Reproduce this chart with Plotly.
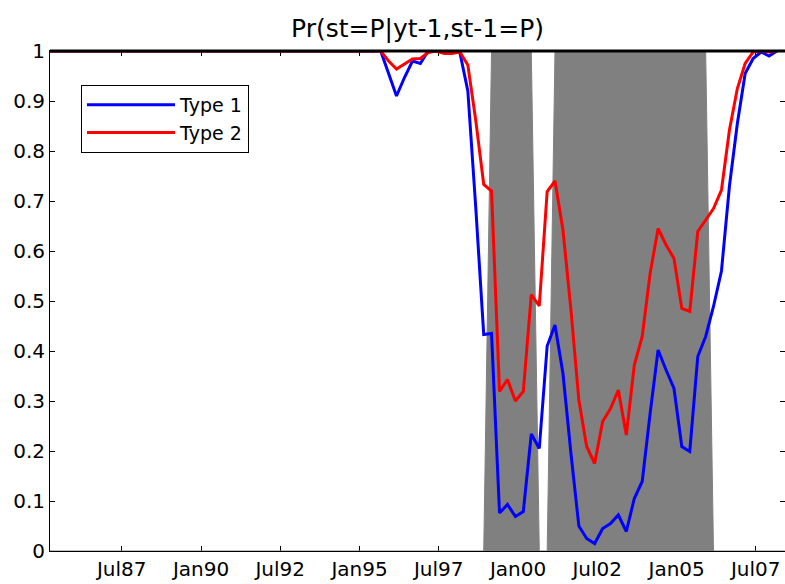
import pandas as pd
import plotly.graph_objects as go

# Quarterly observations (first day of the last month of each quarter)
dates_lines = pd.date_range("1985-03-01", "2008-03-01", freq="3MS")
dates_shade = pd.date_range("1985-03-01", "2008-06-01", freq="3MS")

# Pr(s_t = P | y_t-1, s_t-1 = P), Type 1 (blue)
type1 = [
    1, 1, 1, 1,            # 1985
    1, 1, 1, 1,            # 1986
    1, 1, 1, 1,            # 1987
    1, 1, 1, 1,            # 1988
    1, 1, 1, 1,            # 1989
    1, 1, 1, 1,            # 1990
    1, 1, 1, 1,            # 1991
    1, 1, 1, 1,            # 1992
    1, 1, 1, 1,            # 1993
    1, 1, 1, 1,            # 1994
    1, 1, 1, 0.955,        # 1995
    0.91, 0.947, 0.98, 0.975,     # 1996
    1.0, 1.0, 1.0, 1.0,           # 1997
    0.997, 0.92, 0.685, 0.433,    # 1998
    0.435, 0.076, 0.093, 0.069,   # 1999
    0.079, 0.234, 0.205, 0.41,    # 2000
    0.452, 0.355, 0.195, 0.05,    # 2001
    0.025, 0.015, 0.045, 0.055,   # 2002
    0.072, 0.039, 0.105, 0.139,   # 2003
    0.275, 0.402, 0.362, 0.325,   # 2004
    0.209, 0.199, 0.389, 0.429,   # 2005
    0.489, 0.56, 0.73, 0.855,     # 2006
    0.955, 0.985, 0.998, 0.99,    # 2007
    1.0,                          # 2008
]

# Type 2 (red)
type2 = [
    1, 1, 1, 1,            # 1985
    1, 1, 1, 1,            # 1986
    1, 1, 1, 1,            # 1987
    1, 1, 1, 1,            # 1988
    1, 1, 1, 1,            # 1989
    1, 1, 1, 1,            # 1990
    1, 1, 1, 1,            # 1991
    1, 1, 1, 1,            # 1992
    1, 1, 1, 1,            # 1993
    1, 1, 1, 1,            # 1994
    1, 1, 1, 0.98,         # 1995
    0.964, 0.974, 0.984, 0.985,   # 1996
    0.997, 1.0, 0.995, 0.995,     # 1997
    0.998, 0.972, 0.86, 0.733,    # 1998
    0.72, 0.319, 0.343, 0.30,     # 1999
    0.319, 0.513, 0.49, 0.719,    # 2000
    0.74, 0.642, 0.482, 0.302,    # 2001
    0.209, 0.175, 0.259, 0.285,   # 2002
    0.322, 0.232, 0.372, 0.429,   # 2003
    0.555, 0.645, 0.612, 0.585,   # 2004
    0.485, 0.479, 0.639, 0.662,   # 2005
    0.685, 0.722, 0.842, 0.925,   # 2006
    0.975, 0.998, 1.0, 0.998,     # 2007
    1.0,                          # 2008
]

# Shaded periods (1 = shaded)
shade = [
    0, 0, 0, 0,  # 1985
    0, 0, 0, 0,  # 1986
    0, 0, 0, 0,  # 1987
    0, 0, 0, 0,  # 1988
    0, 0, 0, 0,  # 1989
    0, 0, 0, 0,  # 1990
    0, 0, 0, 0,  # 1991
    0, 0, 0, 0,  # 1992
    0, 0, 0, 0,  # 1993
    0, 0, 0, 0,  # 1994
    0, 0, 0, 0,  # 1995
    0, 0, 0, 0,  # 1996
    0, 0, 0, 0,  # 1997
    0, 0, 0, 0,  # 1998
    1, 1, 1, 1,  # 1999
    1, 1, 0, 0,  # 2000
    1, 1, 1, 1,  # 2001
    1, 1, 1, 1,  # 2002
    1, 1, 1, 1,  # 2003
    1, 1, 1, 1,  # 2004
    1, 1, 1, 1,  # 2005
    0, 0, 0, 0,  # 2006
    0, 0, 0, 0,  # 2007
    0, 0,        # 2008
]

x_tick_vals = ["1987-07-01", "1990-01-01", "1992-07-01", "1995-01-01", "1997-07-01",
               "2000-01-01", "2002-07-01", "2005-01-01", "2007-07-01"]
x_tick_text = ["Jul87", "Jan90", "Jul92", "Jan95", "Jul97", "Jan00", "Jul02", "Jan05", "Jul07"]
y_tick_vals = [0, 0.1, 0.2, 0.3, 0.4, 0.5, 0.6, 0.7, 0.8, 0.9, 1]
y_tick_text = ["0", "0.1", "0.2", "0.3", "0.4", "0.5", "0.6", "0.7", "0.8", "0.9", "1"]

FONT = "DejaVu Sans"

fig = go.Figure()
fig.add_trace(go.Scatter(
    x=dates_shade, y=shade, mode="lines", fill="tozeroy",
    fillcolor="#808080", line=dict(color="#808080", width=1),
    showlegend=False, hoverinfo="skip",
))
fig.add_trace(go.Scatter(
    x=dates_lines, y=type1, mode="lines", name="Type 1",
    line=dict(color="#0000FF", width=3),
))
fig.add_trace(go.Scatter(
    x=dates_lines, y=type2, mode="lines", name="Type 2",
    line=dict(color="#FF0000", width=3),
))

fig.update_layout(
    width=785, height=584,
    margin=dict(l=50, r=0, t=51, b=33),
    paper_bgcolor="white", plot_bgcolor="white",
    font=dict(family=FONT, size=20, color="black"),
    title=dict(text="Pr(st=P|yt-1,st-1=P)", x=0.5, xref="paper", xanchor="center",
               y=1 - 28 / 584, yref="container", yanchor="middle",
               font=dict(family=FONT, size=25, color="black")),
    legend=dict(x=31 / 735, y=(551 - 85) / 500, xanchor="left", yanchor="top",
                bgcolor="white", bordercolor="black", borderwidth=1,
                itemwidth=88,
                font=dict(family=FONT, size=19, color="black")),
    showlegend=True,
)
fig.update_xaxes(
    type="date", range=["1985-03-27", "2008-06-02"],
    tickvals=x_tick_vals, ticktext=x_tick_text,
    ticks="inside", ticklen=5, tickwidth=1, tickcolor="black",
    showline=True, linecolor="black", linewidth=1, mirror="ticks",
    showgrid=False, zeroline=False, layer="below traces",
)
fig.update_yaxes(
    range=[0, 1], tickvals=y_tick_vals, ticktext=y_tick_text,
    ticks="inside", ticklen=5, tickwidth=1, tickcolor="black",
    showline=True, linecolor="black", linewidth=1, mirror="ticks",
    showgrid=False, zeroline=False,
)
# top frame of the axes box, drawn over the data like the reference
fig.add_shape(type="line", xref="paper", yref="paper", x0=0, x1=1, y0=1, y1=1,
              line=dict(color="black", width=3), layer="above")

fig.write_html("out.html")
